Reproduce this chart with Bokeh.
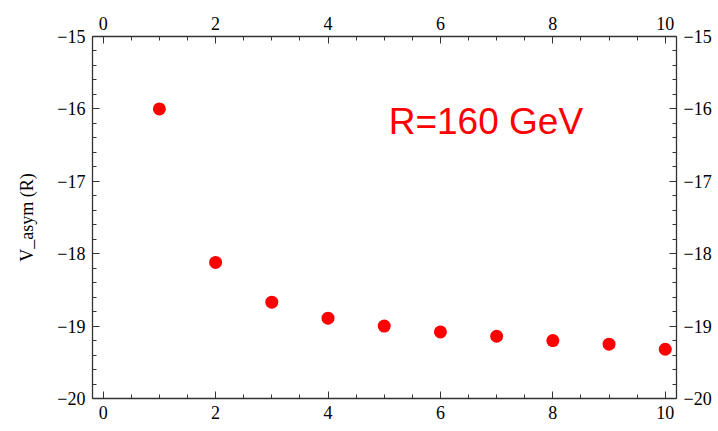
from bokeh.plotting import figure
from bokeh.models import LinearAxis, FixedTicker, Range1d, Label
from bokeh.embed import file_html
from bokeh.resources import INLINE

# data
n_values = [1, 2, 3, 4, 5, 6, 7, 8, 9, 10]
v_asym = [-16.00, -18.12, -18.67, -18.89, -19.00, -19.08, -19.14, -19.20, -19.25, -19.32]

x_ticks = [0, 2, 4, 6, 8, 10]
y_ticks = [-20, -19, -18, -17, -16, -15]
y_tick_labels = ["\u221220", "\u221219", "\u221218", "\u221217", "\u221216", "\u221215"]
annotation_text = "R=160 GeV"
y_label = "V_asym (R)"

SERIF = "Liberation Serif"
W, H = 718, 431

p = figure(width=W, height=H, output_backend="svg", toolbar_location=None,
           x_range=Range1d(-0.19, 10.2), y_range=Range1d(-20, -15),
           min_border_left=92, min_border_right=42, min_border_top=36, min_border_bottom=33,
           x_axis_location="below", y_axis_location="left")
p.outline_line_color = None
p.grid.visible = False
p.background_fill_color = "white"
p.border_fill_color = "white"

p.add_layout(LinearAxis(), "above")
p.add_layout(LinearAxis(), "right")

y_over = {float(t): l for t, l in zip(y_ticks, y_tick_labels)}

for ax in p.xaxis:
    ax.ticker = FixedTicker(ticks=x_ticks, minor_ticks=[i * 0.5 for i in range(0, 21)])
for ax in p.yaxis:
    ax.ticker = FixedTicker(ticks=y_ticks, minor_ticks=[-20 + i * 0.2 for i in range(0, 26)])
    ax.major_label_overrides = y_over

for ax in list(p.xaxis) + list(p.yaxis):
    ax.axis_line_color = "#333333"
    ax.axis_line_width = 1.3
    ax.major_tick_line_color = "#333333"
    ax.minor_tick_line_color = "#333333"
    ax.major_tick_in = 7
    ax.major_tick_out = 0
    ax.minor_tick_in = 4
    ax.minor_tick_out = 0
    ax.major_label_text_font = SERIF
    ax.major_label_text_font_size = "18px"
    ax.major_label_text_color = "black"
    ax.major_label_standoff = 7

left = p.yaxis[0]
left.axis_label = y_label
left.axis_label_text_font = SERIF
left.axis_label_text_font_size = "18px"
left.axis_label_text_font_style = "normal"
left.axis_label_text_color = "black"
left.axis_label_standoff = 17

p.scatter(n_values, v_asym, size=13, color="#ff0000", line_color=None)

p.add_layout(Label(x=5.08, y=-16.18, text=annotation_text, text_color="#ff0000",
                   text_font="Liberation Sans", text_font_size="37px",
                   text_baseline="alphabetic", text_align="left"))

open("out.html", "w").write(file_html(p, INLINE))
